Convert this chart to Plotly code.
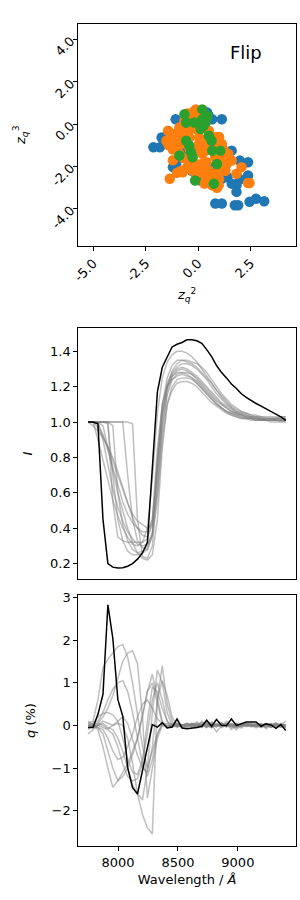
import plotly.graph_objects as go

# ---------------- data ----------------
wavelength = [7750, 7791, 7832, 7874, 7915, 7956, 7998, 8039, 8080, 8121, 8162, 8204, 8245, 8286,
              8328, 8369, 8410, 8451, 8492, 8534, 8575, 8616, 8658, 8699, 8740, 8781, 8822, 8864,
              8905, 8946, 8988, 9029, 9070, 9111, 9152, 9194, 9235, 9276, 9318, 9359, 9400]

blue_x = [-2.13, -1.82, -1.74, -1.43, -1.07, 0.43, 0.67, 1.13, 1.6, 1.99, 2.38, 2.38, 1.83, 1.83,
          0.82, 1.13, 1.75, 1.91, 2.45, 2.76, 3.15, -1.2, -1.04, 0.12, 1.13, 1.6, 0.98, -0.73,
          -1.04, -0.5, 0.0, 0.3, 0.8, -0.3, 1.2, 1.4, 2.0, -1.5, 0.5]
blue_y = [-1.09, -1.09, -0.63, -0.39, 0.23, 0.55, 0.23, 0.23, -1.25, -1.72, -1.8, -2.42, -2.89, -3.2,
          -3.75, -3.75, -3.83, -3.83, -3.67, -3.52, -3.64, -2.03, -1.88, -2.66, -2.58, -2.81, -2.27, -1.25,
          -1.09, -0.2, 0.3, -1.0, -2.0, -2.2, -2.0, -2.5, -2.6, -0.8, 0.4]

orange_x = [-1.35, -0.73, -0.34, -0.11, -1.2, -1.51, -1.43, -0.89, -0.65, -0.42, -0.11, 0.2, 0.51,
            0.82, 0.67, 0.98, 1.13, 1.44, 1.6, 2.07, 1.83, 2.38, 2.45, 0.51, 0.2, 0.05, 0.36, 0.82,
            0.98, -0.42, -0.89, 0.2, 0.36, -0.26, -1.12, -0.57, 1.13, 1.37, -0.2, 0.0, 0.6, -0.7,
            -1.3, -1.0, -0.8, -0.6, -0.3, -0.1, 0.1, -0.5, -0.2, 0.3, -1.2, -0.9, -0.7, -0.5,
            -0.3, 0.0, 0.2, 0.4, 0.6, 0.9, 1.1, 1.2, 0.8, 1.0, 0.7, -0.1, 0.3, 0.5, -0.8, -1.0,
            -1.2, -1.4, 0.0, -0.4, 0.4, 1.3, 1.0, 0.9]
orange_y = [-2.58, -2.27, 0.47, 0.7, -0.47, -0.78, -0.31, -0.16, 0.16, -0.63, -1.25, -1.88, -2.19,
            -2.5, -2.89, -2.89, -0.94, -1.41, -1.72, -2.03, -2.34, -2.78, -2.78, -0.31, 0.0, -0.63, -1.25, -1.56,
            -1.88, -1.72, -1.41, -2.19, -2.5, -2.19, -0.94, -0.94, -2.19, -1.88, 0.3, -0.3, -0.9, -0.5,
            -0.6, -0.4, -0.7, -0.4, -0.2, 0.3, 0.5, 0.5, 0.6, 0.2, -1.2, -1.0, -1.6, -2.0,
            -1.5, -1.0, -1.4, -1.8, -2.4, -2.3, -1.5, -1.2, -0.6, -0.6, -1.0, -2.4, -2.8, -2.7, -2.2, -2.3,
            -1.7, -1.0, -1.9, -1.2, -0.8, -2.2, -2.6, -3.0]

green_x = [-0.65, 0.2, -0.57, -0.19, 0.2, 0.36, 0.12, 0.51, 0.64, -0.57, -0.42, -0.34, -0.26, -0.89,
           0.67, 1.06, 0.9, -0.14, 0.75, 0.25, 0.45]
green_y = [0.47, 0.7, 0.08, 0.08, 0.23, 0.08, -0.23, -0.55, -0.78, -0.78, -1.02, -1.33, -1.56, -1.48,
           -1.25, -1.25, -1.88, -2.66, -2.81, -0.1, 0.4]

black_I = [1.0, 1.0, 0.99, 0.45, 0.20, 0.18, 0.175, 0.176, 0.185, 0.20, 0.225, 0.26, 0.32, 0.72,
           1.17, 1.31, 1.37, 1.425, 1.44, 1.45, 1.465, 1.465, 1.46, 1.445, 1.41, 1.37, 1.32, 1.28,
           1.25, 1.215, 1.19, 1.16, 1.14, 1.12, 1.105, 1.09, 1.075, 1.06, 1.045, 1.03, 1.01]

black_q = [-0.05, -0.05, 0.26, 0.73, 2.83, 2.05, 0.61, 0.22, -0.99, -1.46, -1.61, -1.07, -0.53, 0.02,
           -0.04, 0.06, -0.06, -0.04, 0.15, -0.06, -0.08, -0.07, -0.05, -0.02, 0.12, -0.02, 0.14, 0.0,
           0.0, 0.15, 0.0, 0.04, 0.08, 0.08, 0.08, -0.02, 0.04, 0.01, -0.07, 0.02, -0.12]

grey_I_1 = [1.0, 1.0, 1.0, 1.0, 1.0, 1.0, 1.0, 1.0, 1.0, 0.99, 0.45, 0.24, 0.23, 0.30, 0.62, 0.98, 1.17, 1.26, 1.29, 1.30, 1.29, 1.27, 1.24, 1.21, 1.18, 1.15, 1.12, 1.10, 1.08, 1.06, 1.05, 1.04, 1.03, 1.025, 1.02, 1.015, 1.01, 1.01, 1.01, 1.005, 1.005]
grey_I_2 = [1.0, 1.0, 1.0, 1.0, 1.0, 1.0, 1.0, 1.0, 0.7, 0.45, 0.33, 0.29, 0.28, 0.36, 0.75, 1.05, 1.2, 1.27, 1.3, 1.31, 1.3, 1.28, 1.26, 1.23, 1.2, 1.17, 1.14, 1.11, 1.09, 1.07, 1.05, 1.04, 1.03, 1.02, 1.02, 1.015, 1.01, 1.01, 1.01, 1.01, 1.01]
grey_I_3 = [1.0, 0.98, 0.95, 0.91, 0.86, 0.80, 0.72, 0.63, 0.54, 0.46, 0.40, 0.36, 0.35, 0.42, 0.8, 1.1, 1.25, 1.32, 1.35, 1.35, 1.34, 1.33, 1.31, 1.28, 1.25, 1.22, 1.18, 1.15, 1.12, 1.09, 1.07, 1.06, 1.05, 1.04, 1.03, 1.03, 1.02, 1.02, 1.02, 1.02, 1.02]
grey_I_4 = [1.0, 1.0, 1.0, 1.0, 1.0, 0.55, 0.35, 0.33, 0.32, 0.32, 0.32, 0.32, 0.34, 0.45, 0.85, 1.1, 1.2, 1.24, 1.26, 1.27, 1.26, 1.25, 1.23, 1.2, 1.17, 1.14, 1.11, 1.08, 1.06, 1.05, 1.04, 1.03, 1.02, 1.02, 1.02, 1.01, 1.01, 1.01, 1.01, 1.01, 1.01]
grey_I_5 = [1.0, 1.0, 0.9, 0.78, 0.66, 0.56, 0.47, 0.40, 0.35, 0.31, 0.30, 0.32, 0.40, 0.68, 1.05, 1.25, 1.34, 1.38, 1.40, 1.40, 1.39, 1.37, 1.34, 1.3, 1.26, 1.22, 1.18, 1.14, 1.11, 1.08, 1.06, 1.05, 1.04, 1.03, 1.03, 1.02, 1.02, 1.02, 1.02, 1.02, 1.02]
grey_I_6 = [1.0, 1.0, 0.97, 0.92, 0.86, 0.78, 0.70, 0.62, 0.54, 0.48, 0.44, 0.42, 0.40, 0.42, 0.6, 0.95, 1.15, 1.24, 1.27, 1.28, 1.27, 1.25, 1.22, 1.19, 1.16, 1.13, 1.1, 1.08, 1.06, 1.05, 1.04, 1.03, 1.02, 1.02, 1.01, 1.01, 1.01, 1.01, 1.01, 1.01, 1.01]
grey_I_7 = [1.0, 1.0, 1.0, 0.98, 0.85, 0.72, 0.60, 0.50, 0.40, 0.32, 0.26, 0.23, 0.22, 0.25, 0.45, 0.85, 1.1, 1.2, 1.24, 1.25, 1.25, 1.24, 1.22, 1.19, 1.16, 1.13, 1.1, 1.08, 1.06, 1.04, 1.03, 1.02, 1.02, 1.01, 1.01, 1.01, 1.01, 1.0, 1.0, 1.0, 1.0]
grey_I_8 = [1.0, 1.0, 1.0, 1.0, 1.0, 0.98, 0.6, 0.42, 0.33, 0.28, 0.26, 0.27, 0.3, 0.38, 0.78, 1.08, 1.22, 1.28, 1.31, 1.33, 1.33, 1.32, 1.3, 1.27, 1.24, 1.2, 1.16, 1.13, 1.1, 1.08, 1.06, 1.05, 1.04, 1.03, 1.03, 1.02, 1.02, 1.02, 1.02, 1.02, 1.02]
grey_I_9 = [1.0, 1.0, 1.0, 0.9, 0.75, 0.62, 0.52, 0.44, 0.38, 0.34, 0.31, 0.30, 0.31, 0.36, 0.55, 0.9, 1.1, 1.18, 1.22, 1.23, 1.23, 1.22, 1.2, 1.17, 1.14, 1.11, 1.09, 1.07, 1.05, 1.04, 1.03, 1.02, 1.02, 1.02, 1.01, 1.01, 1.01, 1.01, 1.01, 1.01, 1.01]
grey_I_10 = [1.0, 1.0, 1.0, 1.0, 0.99, 0.7, 0.45, 0.33, 0.27, 0.25, 0.25, 0.26, 0.28, 0.36, 0.7, 1.05, 1.2, 1.26, 1.28, 1.28, 1.28, 1.27, 1.25, 1.22, 1.19, 1.16, 1.13, 1.1, 1.08, 1.06, 1.05, 1.04, 1.03, 1.03, 1.02, 1.02, 1.02, 1.02, 1.02, 1.03, 1.03]
grey_I_11 = [1.0, 1.0, 0.99, 0.93, 0.84, 0.74, 0.64, 0.55, 0.48, 0.43, 0.40, 0.38, 0.38, 0.45, 0.72, 1.02, 1.2, 1.29, 1.33, 1.35, 1.35, 1.34, 1.33, 1.31, 1.28, 1.24, 1.2, 1.16, 1.13, 1.1, 1.08, 1.06, 1.05, 1.04, 1.04, 1.03, 1.03, 1.03, 1.03, 1.03, 1.03]

grey_q_1 = [0.05, 0.1, 0.6, 1.35, 1.55, 1.7, 1.85, 1.9, 1.6, 1.0, 0.3, -0.5, -1.0, -0.6, -0.2, 0.0, -0.05, 0.05, -0.02, 0.0, 0.05, -0.03, 0.02, -0.05, 0.08, 0.0, -0.04, 0.06, -0.02, 0.03, -0.05, 0.02, 0.0, 0.05, -0.03, 0.04, -0.02, 0.0, 0.06, -0.04, 0.02]
grey_q_2 = [-0.05, 0.0, 0.05, 0.2, 0.4, 0.7, 1.1, 1.5, 1.7, 1.75, 1.45, 0.2, -1.7, -1.0, -0.3, 0.0, 0.05, -0.03, 0.02, 0.0, -0.06, 0.04, 0.0, 0.07, -0.03, 0.02, 0.05, -0.05, 0.0, 0.03, 0.0, -0.06, 0.05, 0.02, -0.02, 0.0, 0.04, -0.05, 0.02, 0.0, -0.03]
grey_q_3 = [0.0, -0.05, 0.05, 0.0, -0.08, 0.0, 0.05, 0.0, -0.3, -0.9, -1.6, -2.1, -2.4, -2.55, 0.6, 1.4, 0.5, 0.1, -0.05, 0.02, 0.0, 0.05, -0.05, 0.1, 0.0, -0.05, 0.03, 0.0, 0.05, -0.1, 0.02, 0.0, 0.05, -0.03, 0.0, 0.04, -0.08, 0.0, 0.05, 0.0, -0.05]
grey_q_4 = [-0.05, 0.0, -0.1, -0.5, -1.0, -1.45, -1.3, -1.1, -0.9, -0.6, -0.3, 0.2, 0.8, 1.2, 0.6, 0.1, -0.05, 0.02, -0.02, 0.0, 0.05, -0.03, 0.0, 0.02, -0.05, 0.06, 0.0, -0.02, 0.03, 0.0, -0.1, 0.0, 0.05, -0.02, 0.02, 0.0, -0.05, 0.04, 0.0, 0.02, -0.02]
grey_q_5 = [0.1, 0.0, -0.05, -0.2, -0.6, -1.0, -1.3, -1.2, -1.0, -0.7, -0.3, 0.3, 0.8, 1.0, 0.5, 0.05, 0.0, -0.02, 0.05, 0.0, -0.03, 0.02, 0.08, 0.0, -0.05, 0.03, 0.0, 0.06, -0.02, 0.0, 0.04, -0.03, 0.0, 0.05, 0.0, -0.05, 0.02, 0.0, 0.03, -0.02, 0.0]
grey_q_6 = [0.0, 0.05, 0.2, 0.28, 0.3, 0.25, 0.1, -0.3, -0.8, -1.1, -1.15, -0.8, -0.2, 0.6, 1.0, 0.6, 0.1, 0.0, -0.03, 0.02, 0.0, -0.05, 0.05, 0.0, 0.03, -0.02, 0.0, 0.05, -0.04, 0.02, 0.0, 0.03, -0.03, 0.0, 0.05, -0.02, 0.0, 0.02, -0.03, 0.05, 0.0]
grey_q_7 = [-0.1, 0.0, 0.0, 0.05, -0.05, -0.1, -0.3, -0.6, -1.0, -1.4, -1.6, -1.75, -1.0, 0.3, 1.3, 1.0, 0.3, 0.0, 0.05, -0.05, 0.0, 0.04, -0.02, 0.0, 0.1, -0.05, 0.0, 0.02, -0.03, 0.05, 0.0, -0.02, 0.04, 0.0, -0.06, 0.0, 0.03, -0.02, 0.05, 0.0, 0.1]
grey_q_8 = [0.05, -0.05, 0.0, 0.1, 0.05, 0.0, 0.1, 0.2, 0.05, -0.3, -0.7, -1.0, -1.1, -0.5, 0.6, 1.05, 0.7, 0.2, 0.0, -0.05, 0.02, 0.0, 0.05, -0.03, 0.0, 0.08, -0.02, 0.0, 0.03, -0.05, 0.0, 0.04, 0.0, -0.03, 0.02, 0.0, 0.05, -0.04, 0.0, 0.03, 0.0]
grey_q_9 = [-0.2, -0.1, 0.0, -0.05, -0.1, -0.2, -0.5, -0.9, -1.2, -1.3, -1.25, -0.9, 0.1, 0.9, 0.8, 0.4, 0.1, -0.05, 0.0, 0.02, -0.02, 0.05, 0.0, -0.03, 0.03, 0.0, -0.15, 0.0, 0.02, 0.0, -0.05, 0.03, 0.0, 0.02, 0.0, -0.04, 0.0, 0.05, -0.02, 0.0, -0.05]
grey_q_10 = [0.0, 0.0, -0.05, -0.1, -0.3, -0.6, -0.8, -0.75, -0.5, -0.2, 0.2, 0.5, 0.6, 0.4, 0.15, 0.05, -0.05, 0.0, 0.05, -0.02, 0.0, 0.03, -0.05, 0.0, 0.05, -0.02, 0.0, 0.03, 0.0, -0.03, 0.05, 0.0, -0.02, 0.0, 0.04, 0.0, -0.03, 0.02, 0.0, -0.05, 0.0]
grey_q_11 = [0.0, 0.05, 0.1, 0.3, 0.6, 0.85, 1.0, 1.05, 0.8, 0.3, -0.3, -0.9, -1.2, -0.8, -0.2, 0.05, 0.0, -0.03, 0.02, 0.0, 0.05, 0.0, -0.02, 0.04, 0.0, -0.05, 0.02, 0.0, 0.1, 0.0, -0.03, 0.0, 0.05, 0.0, -0.02, 0.03, 0.0, -0.04, 0.02, 0.0, 0.02]

grey_I = [grey_I_1, grey_I_2, grey_I_3, grey_I_4, grey_I_5, grey_I_6, grey_I_7, grey_I_8,
          grey_I_9, grey_I_10, grey_I_11]
grey_q = [grey_q_1, grey_q_2, grey_q_3, grey_q_4, grey_q_5, grey_q_6, grey_q_7, grey_q_8,
          grey_q_9, grey_q_10, grey_q_11]

scatter_xticks = [-5.0, -2.5, 0.0, 2.5]
scatter_xticklabels = ["-5.0", "-2.5", "0.0", "2.5"]
scatter_yticks = [4.0, 2.0, 0.0, -2.0, -4.0]
scatter_yticklabels = ["4.0", "2.0", "0.0", "-2.0", "-4.0"]
I_ticks = [0.2, 0.4, 0.6, 0.8, 1.0, 1.2, 1.4]
q_ticks = [-2, -1, 0, 1, 2, 3]
wl_ticks = [8000, 8500, 9000]

# ---------------- figure ----------------
FONT = "DejaVu Sans"
FS = 13
fig = go.Figure()

for xs, ys, col in [(blue_x, blue_y, "#1f77b4"), (orange_x, orange_y, "#ff7f0e"),
                    (green_x, green_y, "#2ca02c")]:
    fig.add_trace(go.Scatter(x=xs, y=ys, mode="markers", xaxis="x", yaxis="y",
                             marker=dict(color=col, size=10.5, line=dict(width=0)),
                             showlegend=False))

grey_col = "rgba(128,128,128,0.5)"
for g in grey_I:
    fig.add_trace(go.Scatter(x=wavelength, y=g, mode="lines", xaxis="x2", yaxis="y2",
                             line=dict(color=grey_col, width=1.5), showlegend=False))
fig.add_trace(go.Scatter(x=wavelength, y=black_I, mode="lines", xaxis="x2", yaxis="y2",
                         line=dict(color="black", width=1.5), showlegend=False))

for g in grey_q:
    fig.add_trace(go.Scatter(x=wavelength, y=g, mode="lines", xaxis="x3", yaxis="y3",
                             line=dict(color=grey_col, width=1.5), showlegend=False))
fig.add_trace(go.Scatter(x=wavelength, y=black_q, mode="lines", xaxis="x3", yaxis="y3",
                         line=dict(color="black", width=1.5), showlegend=False))

axis_common = dict(showline=True, linecolor="black", linewidth=1, mirror=True,
                   showgrid=False, zeroline=False, ticks="outside", ticklen=4,
                   tickcolor="black", tickwidth=1,
                   tickfont=dict(family=FONT, size=FS, color="black"))

xdom = [73 / 300, 296 / 300]
fig.update_layout(
    width=300, height=900,
    margin=dict(l=0, r=0, t=0, b=0),
    paper_bgcolor="white", plot_bgcolor="white",
    font=dict(family=FONT, color="black"),
    xaxis=dict(axis_common, domain=xdom, anchor="y", range=[-5.71, 4.67],
               tickvals=scatter_xticks, ticktext=scatter_xticklabels, tickangle=-45,
               title=dict(text="<i>z</i><sub><i>q</i></sub><sup>2</sup>",
                          font=dict(family=FONT, size=FS), standoff=6)),
    yaxis=dict(axis_common, domain=[1 - 242 / 900, 1 - 19 / 900], anchor="x", range=[-5.74, 4.74],
               tickvals=scatter_yticks, ticktext=scatter_yticklabels, tickangle=-45,
               title=dict(text="<i>z</i><sub><i>q</i></sub><sup>3</sup>",
                          font=dict(family=FONT, size=FS), standoff=20)),
    xaxis2=dict(axis_common, domain=xdom, anchor="y2", range=[7668, 9486],
                tickvals=wl_ticks, showticklabels=False, ticks=""),
    yaxis2=dict(axis_common, domain=[1 - 577 / 900, 1 - 325 / 900], anchor="x2",
                range=[0.114, 1.531], tickvals=I_ticks, tickformat=".1f",
                title=dict(text="<i>I</i>", font=dict(family=FONT, size=FS), standoff=14)),
    xaxis3=dict(axis_common, domain=xdom, anchor="y3", range=[7668, 9486],
                tickvals=wl_ticks,
                title=dict(text="Wavelength / <i>Å</i>", font=dict(family=FONT, size=FS),
                           standoff=6)),
    yaxis3=dict(axis_common, domain=[1 - 845.7 / 900, 1 - 593.3 / 900], anchor="x3",
                range=[-2.83, 3.06], tickvals=q_ticks,
                title=dict(text="<i>q</i> (%)", font=dict(family=FONT, size=FS), standoff=12)),
    annotations=[dict(text="Flip", x=0.755, y=0.9467, xref="paper", yref="paper",
                      xanchor="left", yanchor="middle", showarrow=False,
                      font=dict(family=FONT, size=18, color="black"))],
)

fig.write_html("out.html", config={"displayModeBar": False},
               post_script="document.body.style.margin='0';document.body.style.padding='0';"
                           "document.body.style.overflow='hidden';"
                           "document.documentElement.style.overflow='hidden';")
